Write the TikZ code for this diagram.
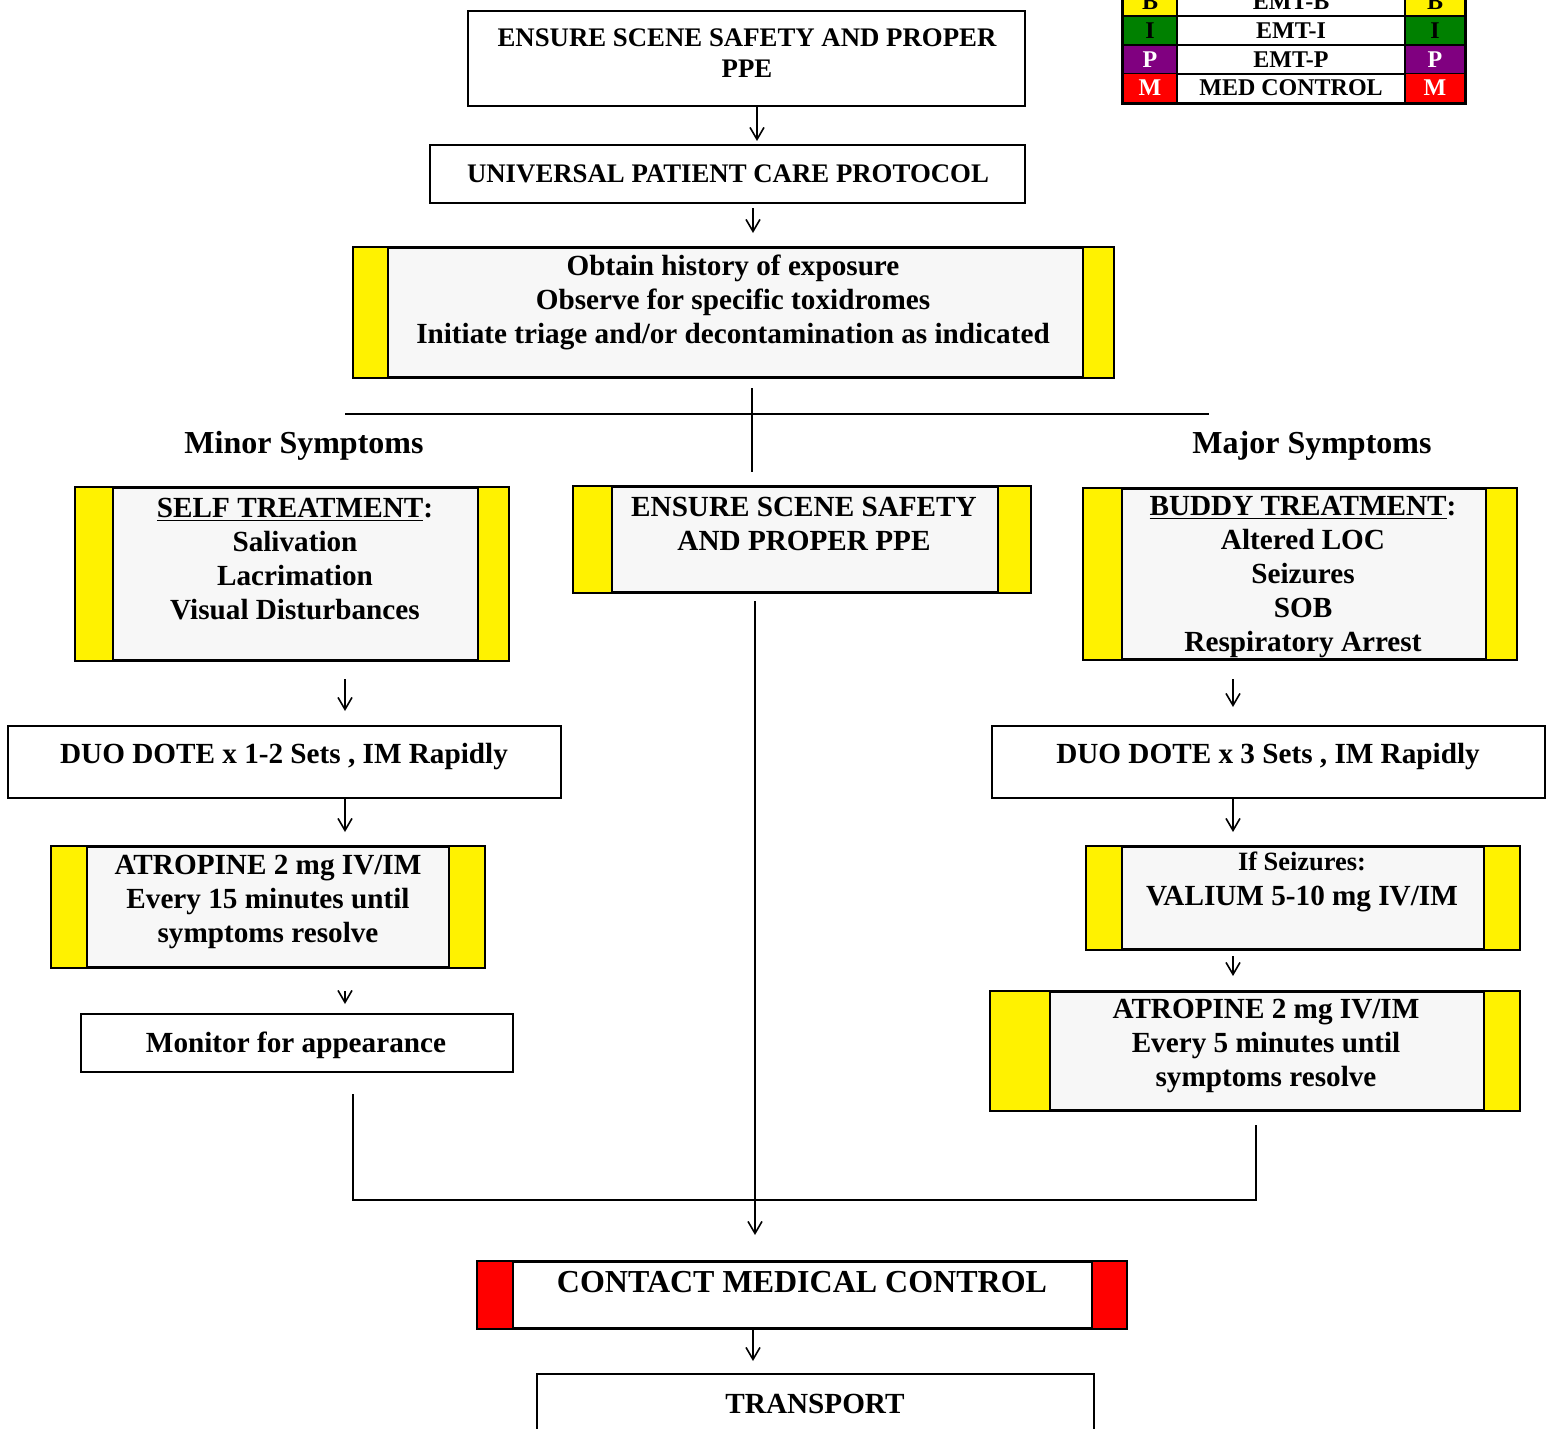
\documentclass[tikz,border=0pt]{standalone}
\usepackage{fontspec}
\setmainfont{Liberation Serif}
\usepackage{tikz}
\usetikzlibrary{fit,arrows.meta}
\definecolor{boxgray}{rgb}{0.969, 0.969, 0.969}
\definecolor{emtgreen}{rgb}{0, 0.5, 0}
\definecolor{emtpurple}{rgb}{0.5, 0, 0.5}
\tikzstyle{box}=[draw,line width=1pt,inner sep=0pt,fill=white]
\tikzstyle{gbox}=[box,fill=boxgray]
\tikzstyle{txt}=[align=center,inner sep=0pt,font=\bfseries\fontsize{14.6}{17}\selectfont]
\tikzstyle{txtsmall}=[txt,font=\bfseries\fontsize{13.4}{15.5}\selectfont]
\tikzstyle{txtbig}=[txt,font=\bfseries\fontsize{16}{18}\selectfont]
\tikzstyle{cell}=[draw,line width=0.8pt,inner sep=0pt,minimum height=14.5pt,font=\bfseries\fontsize{12}{13}\selectfont]
\tikzstyle{flow}=[line width=0.8pt,-{Straight Barb[length=6pt,width=7pt]}]
\tikzstyle{link}=[line width=0.8pt]
\newcommand{\sidebars}[4]{
  \draw[fill=#4,line width=0.8pt] (#1.north west) rectangle ([xshift=#2]#1.south west);
  \draw[fill=#4,line width=0.8pt] (#1.north east) rectangle ([xshift=-#3]#1.south east);
  \draw[line width=1pt] (#1.north west) rectangle (#1.south east);
}

\begin{document}
\begin{tikzpicture}[x=0.5pt,y=-0.5pt]
\useasboundingbox (0,0) rectangle (1547,1429);

% column axes
\coordinate (colL) at (345,0);
\coordinate (colM) at (755,0);
\coordinate (colR) at (1233,0);
\coordinate (colT) at (757,0);
\coordinate (colU) at (753,0);

% legend
\foreach \ltr/\lvl/\lcol/\tcol/\ry in {B/EMT-B/yellow/black/1.5, I/EMT-I/emtgreen/black/30.5, P/EMT-P/emtpurple/white/59.5, M/MED CONTROL/red/white/88}{
  \node[cell,fill=\lcol,text=\tcol,minimum width=27pt] (lg\ltr-a) at (1150,\ry) {\ltr};
  \node[cell,minimum width=114pt] (lg\ltr-b) at (1291,\ry) {\lvl};
  \node[cell,fill=\lcol,text=\tcol,minimum width=30pt] (lg\ltr-c) at (1435,\ry) {\ltr};
}
\draw[line width=1.4pt] (lgB-a.north west) rectangle (lgM-c.south east);

% top of the chart
\node[box,fit={(468,11) (1025,106)}] (scene) {};
\node[txtsmall] (sceneT) at (747,53) {ENSURE SCENE SAFETY AND PROPER\\PPE};

\node[box,fit={(430,145) (1025,203)}] (upcp) {};
\node[txtsmall] (upcpT) at (728,174) {UNIVERSAL PATIENT CARE PROTOCOL};

\node[gbox,fit={(354,248) (1113,377)}] (hist) {};
\sidebars{hist}{17.5pt}{15.5pt}{yellow}
\node[txt] (histT) at (733,302) {Obtain history of exposure\\Observe for specific toxidromes\\Initiate triage and/or decontamination as indicated};

\draw[flow,shorten >=1.5pt] (scene.south -| colT) -- (upcp.north -| colT);
\draw[flow,shorten <=2pt,shorten >=7pt] (upcp.south -| colU) -- (hist.north -| colU);

% split
\coordinate (splitT) at (752,388);
\coordinate (splitB) at (752,472);
\coordinate (barL) at (345,414);
\coordinate (barR) at (1209,414);
\draw[link] (barL) -- (barR);
\draw[link] (splitT) -- (splitB);

\node[txtbig] (minor) at (304,446) {Minor Symptoms};
\node[txtbig] (major) at (1312,446) {Major Symptoms};

% minor branch
\node[gbox,fit={(76,488) (508,660)}] (self) {};
\sidebars{self}{19pt}{15.5pt}{yellow}
\node[txt] (selfT) at (295,559) {\underline{SELF TREATMENT}:\\Salivation\\Lacrimation\\Visual Disturbances};

\node[box,fit={(8,726) (561,798)}] (duoL) {};
\node[txt] (duoLT) at (284,757) {DUO DOTE x 1-2 Sets , IM Rapidly};

\node[gbox,fit={(52,847) (484,967)}] (atrL) {};
\sidebars{atrL}{18pt}{18pt}{yellow}
\node[txt] (atrLT) at (268,902) {ATROPINE 2 mg IV/IM\\Every 15 minutes until\\symptoms resolve};

\node[box,fit={(81,1014) (513,1072)}] (mon) {};
\node[txt] (monT) at (296,1045) {Monitor for appearance};

\draw[flow,shorten <=9pt,shorten >=7pt] (self.south -| colL) -- (duoL.north -| colL);
\draw[flow,shorten >=7pt] (duoL.south -| colL) -- (atrL.north -| colL);
\draw[flow,shorten <=11.5pt,shorten >=4.5pt] (atrL.south -| colL) -- (mon.north -| colL);

% middle
\node[gbox,fit={(574,487) (1030,592)}] (ctr) {};
\sidebars{ctr}{19.5pt}{16.5pt}{yellow}
\node[txt] (ctrT) at (804,524) {ENSURE SCENE SAFETY\\AND PROPER PPE};

% major branch
\node[gbox,fit={(1084,489) (1516,659)}] (buddy) {};
\sidebars{buddy}{19.5pt}{15.5pt}{yellow}
\node[txt] (buddyT) at (1303,577) {\underline{BUDDY TREATMENT}:\\Altered LOC\\Seizures\\SOB\\Respiratory Arrest};

\node[box,fit={(992,726) (1545,798)}] (duoR) {};
\node[txt] (duoRT) at (1268,757) {DUO DOTE x 3 Sets , IM Rapidly};

\node[gbox,fit={(1087,847) (1519,949)}] (val) {};
\sidebars{val}{18pt}{18pt}{yellow}
\node[txt] (valT) at (1302,882) {{\fontsize{13.2}{15}\selectfont If Seizures:}\\[0.5pt]VALIUM 5-10 mg IV/IM};

\node[gbox,fit={(991,992) (1519,1110)}] (atrR) {};
\sidebars{atrR}{30pt}{18pt}{yellow}
\node[txt] (atrRT) at (1266,1046) {ATROPINE 2 mg IV/IM\\Every 5 minutes until\\symptoms resolve};

\draw[flow,shorten <=9.5pt,shorten >=9pt] (buddy.south -| colR) -- (duoR.north -| colR);
\draw[flow,shorten >=7pt] (duoR.south -| colR) -- (val.north -| colR);
\draw[flow,shorten <=3pt,shorten >=7.5pt] (val.south -| colR) -- (atrR.north -| colR);

% bottom
\node[box,fit={(478,1262) (1126,1328)}] (cmc) {};
\sidebars{cmc}{18pt}{17.5pt}{red}
\node[txtbig] (cmcT) at (802,1282) {CONTACT MEDICAL CONTROL};

\node[box,fit={(537,1374) (1094,1445)}] (trans) {};
\node[txt] (transT) at (815,1404) {TRANSPORT};

\coordinate (joinL) at (353,1200);
\coordinate (joinR) at (1256,1200);
\draw[link] ([yshift=-10.5pt]mon.south -| joinL) -- (joinL) -- (joinR) -- ([yshift=-7pt]atrR.south -| joinR);
\draw[flow,shorten <=4pt,shorten >=13pt] (ctr.south -| colM) -- (cmc.north -| colM);
\draw[flow,shorten >=6pt] (cmc.south -| colU) -- (trans.north -| colU);

\end{tikzpicture}
\end{document}
